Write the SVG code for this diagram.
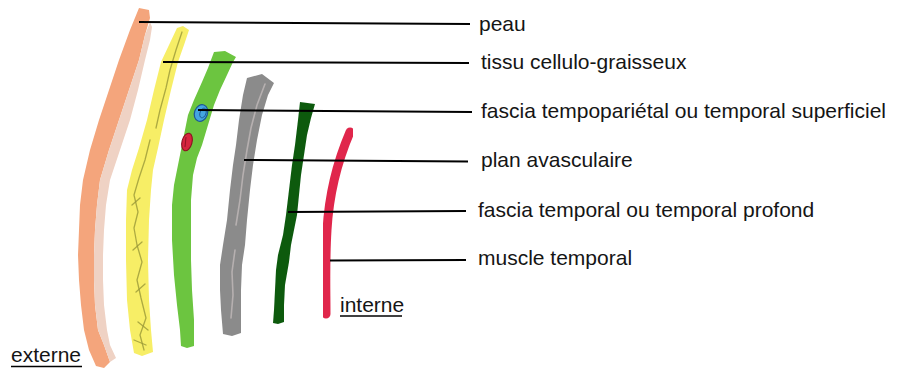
<svg xmlns="http://www.w3.org/2000/svg" width="909" height="369" viewBox="0 0 909 369">
  <style>
    .lbl { font-family: "Liberation Sans", Arial, sans-serif; font-size: 21px; fill: #151515; }
    .lead { stroke: #000; stroke-width: 2; fill: none; }
    .ul { stroke: #000; stroke-width: 1.6; }
    .vein { fill: none; stroke: #9a9838; stroke-width: 1.3; stroke-linecap: round; stroke-linejoin: round; opacity: 0.8; }
    .streak { fill: none; stroke: #bdb6b6; stroke-width: 1.6; stroke-linecap: round; opacity: 0.85; }
  </style>
  <defs>
    <filter id="soft" x="-10%" y="-10%" width="120%" height="120%">
      <feGaussianBlur stdDeviation="0.5"/>
    </filter>
  </defs>
  <rect width="909" height="369" fill="#fff"/>

  <!-- skin layer -->
  <g id="peau" filter="url(#soft)">
    <path fill="#f4a57b" d="M139,8 L130,30 L119,60 L109,90 L99,120 L90,150 L83,180 L80,205 L79,230 L78,255 L79,280 L81,305 L84,330 L89,350 L96,366 L104,368 L110,362 L104,345 L98,330 L95,305 L94,280 L94,255 L95,230 L97,205 L100,180 L109,150 L119,120 L129,90 L139,60 L145,35 L150,18 L149,10 Z"/>
    <path fill="#efd2c4" d="M150,22 L145,35 L139,60 L129,90 L119,120 L109,150 L100,180 L97,205 L95,230 L94,255 L94,280 L95,305 L98,330 L104,345 L110,362 L116,358 L110,345 L107,330 L104,305 L103,280 L103,255 L104,230 L106,205 L110,180 L120,150 L130,120 L138,90 L145,60 L150,40 L152,27 Z"/>
  </g>

  <!-- subcutaneous fatty tissue -->
  <g id="tissu" filter="url(#soft)">
    <path fill="#f7ee66" d="M177,28 L169,45 L161,62 L154,90 L147,120 L139,148 L132,170 L127,190 L126,220 L126,260 L127,300 L130,330 L134,353 L142,356 L153,352 L151,330 L149,300 L148,260 L149,220 L151,190 L153,170 L158,148 L164,120 L171,90 L178,62 L184,45 L189,30 L183,26 Z"/>
    <path class="vein" d="M182,32 L176,50 L170,70 L166,88 L160,110 L156,128"/>
    <path class="vein" d="M150,140 L145,160 L139,178 L134,195 L138,212 L134,228 L137,245 L142,262 L137,280 L141,298 L146,318 L140,335 L144,350"/>
    <path class="vein" d="M132,205 L140,198 M133,250 L142,242 M136,292 L145,284 M138,322 L148,330 M134,340 L146,345"/>
  </g>

  <!-- superficial temporal fascia with vessels -->
  <g id="fascia-superficiel" filter="url(#soft)">
    <path fill="#6cc53f" d="M214,52 L208,68 L202,82 L194,100 L188,115 L185,130 L182,145 L178,165 L174,185 L172,205 L172,240 L174,275 L177,305 L180,330 L181,346 L187,348 L194,346 L194,320 L192,290 L191,260 L191,230 L191,200 L193,175 L197,158 L202,145 L208,125 L214,105 L220,90 L227,75 L233,62 L236,57 L225,51 Z"/>
    <ellipse cx="201" cy="113" rx="6.5" ry="8.5" transform="rotate(20 201 113)" fill="#45a6e0" stroke="#1d5796" stroke-width="1.2"/>
    <ellipse cx="203" cy="113" rx="3" ry="5" transform="rotate(20 203 113)" fill="none" stroke="#1d5796" stroke-width="0.9"/>
    <ellipse cx="187" cy="142" rx="5" ry="9" transform="rotate(15 187 142)" fill="#d6253d" stroke="#8a1222" stroke-width="1.1"/>
    <path d="M186,137 L185,147" stroke="#8a1222" stroke-width="0.9"/>
  </g>

  <!-- avascular plane -->
  <g id="plan-avasculaire" filter="url(#soft)">
    <path fill="#8b8b8b" d="M247,78 L243,95 L239,120 L236,145 L233,165 L230,190 L227,220 L223,245 L220,265 L220,290 L221,310 L223,334 L232,336 L241,333 L241,310 L241,290 L242,265 L245,245 L247,220 L250,190 L253,165 L257,140 L262,115 L268,95 L274,83 L262,74 Z"/>
    <path class="streak" d="M265,84 L257,105 L251,128 L247,150 L243,175 L240,200 L236,225"/>
    <path class="streak" d="M235,250 L232,272 L233,295 L231,318"/>
  </g>

  <!-- deep temporal fascia -->
  <g id="fascia-profond" filter="url(#soft)">
    <path fill="#0d5a10" d="M300,102 L298,120 L295,145 L292,165 L289,190 L286,215 L283,235 L278,255 L276,270 L275,290 L274,310 L273,323 L278,324 L284,322 L284,305 L285,285 L289,262 L291,245 L294,230 L297,215 L299,195 L301,175 L304,155 L307,135 L311,118 L315,104 Z"/>
  </g>

  <!-- temporal muscle -->
  <g id="muscle-temporal" filter="url(#soft)">
    <path d="M350,132 C338,160 329,195 327,230 C325,262 326,290 326,314" fill="none" stroke="#e0284c" stroke-width="9" stroke-linecap="round"/>
  </g>

  <!-- leader lines -->
  <g id="connectors">
    <path class="lead" d="M139,22 L470,24"/>
    <path class="lead" d="M163,62 L469,63"/>
    <path class="lead" d="M198,110 L472,112"/>
    <path class="lead" d="M244,160 L468,161.5"/>
    <path class="lead" d="M288,212 L466,211"/>
    <path class="lead" d="M330,260.5 L466,260"/>
  </g>

  <!-- layer names -->
  <g id="labels">
    <text class="lbl" x="479" y="31">peau</text>
    <text class="lbl" x="481" y="69">tissu cellulo-graisseux</text>
    <text class="lbl" x="481" y="118">fascia tempopariétal ou temporal superficiel</text>
    <text class="lbl" x="481" y="167">plan avasculaire</text>
    <text class="lbl" x="478" y="217">fascia temporal ou temporal profond</text>
    <text class="lbl" x="478" y="265">muscle temporal</text>
  </g>

  <!-- orientation marks -->
  <g id="orientation">
    <text class="lbl" x="340" y="311.5">interne</text>
    <line class="ul" x1="340" y1="316" x2="402" y2="316"/>
    <text class="lbl" x="11" y="362">externe</text>
    <line class="ul" x1="11" y1="366.5" x2="82" y2="366.5"/>
  </g>
</svg>
